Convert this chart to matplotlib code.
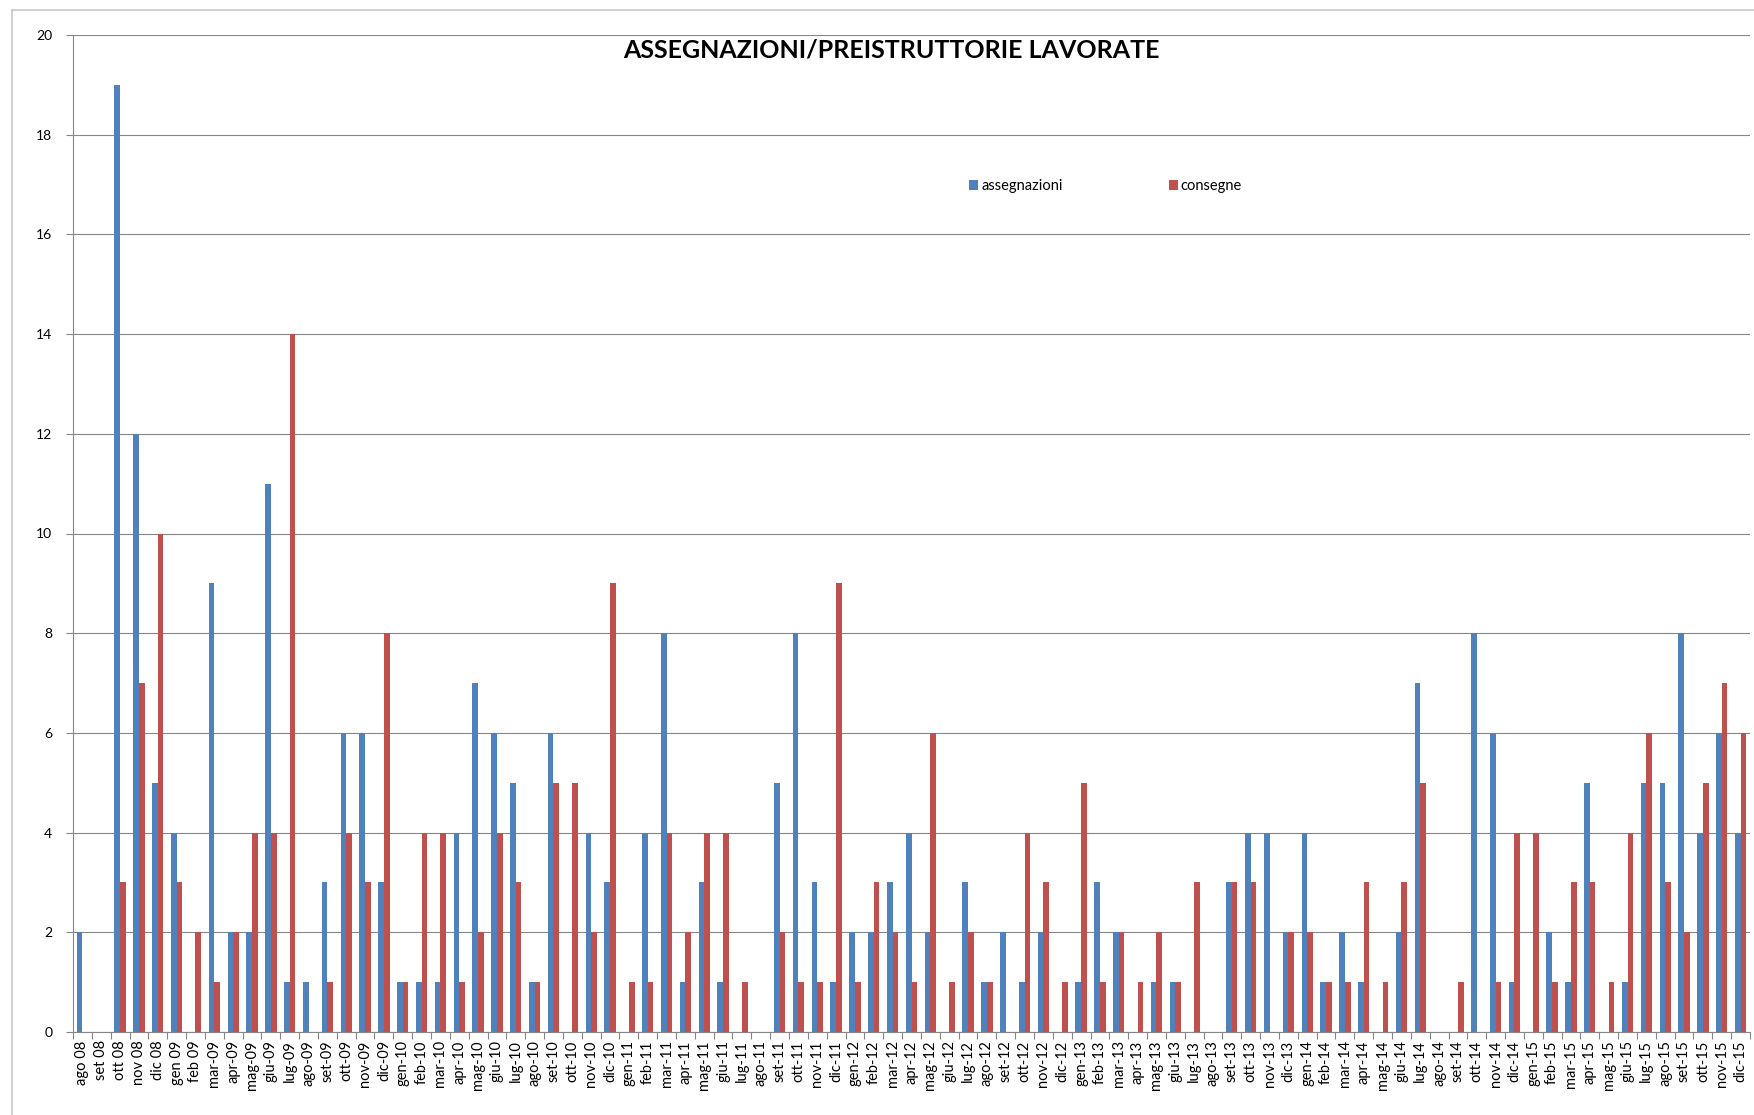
import numpy as np
import matplotlib
matplotlib.use('Agg')
import matplotlib.pyplot as plt
from matplotlib.lines import Line2D

plt.rcParams['font.family'] = ['Lato', 'DejaVu Sans']

# Dati mensili ago 08 - dic 15 -----
mesi = ['ago 08', 'set 08', 'ott 08', 'nov 08', 'dic 08', 'gen 09', 'feb 09',
        'mar-09', 'apr-09', 'mag-09', 'giu-09', 'lug-09', 'ago-09', 'set-09', 'ott-09', 'nov-09', 'dic-09',
        'gen-10', 'feb-10', 'mar-10', 'apr-10', 'mag-10', 'giu-10', 'lug-10', 'ago-10', 'set-10', 'ott-10', 'nov-10', 'dic-10',
        'gen-11', 'feb-11', 'mar-11', 'apr-11', 'mag-11', 'giu-11', 'lug-11', 'ago-11', 'set-11', 'ott-11', 'nov-11', 'dic-11',
        'gen-12', 'feb-12', 'mar-12', 'apr-12', 'mag-12', 'giu-12', 'lug-12', 'ago-12', 'set-12', 'ott-12', 'nov-12', 'dic-12',
        'gen-13', 'feb-13', 'mar-13', 'apr-13', 'mag-13', 'giu-13', 'lug-13', 'ago-13', 'set-13', 'ott-13', 'nov-13', 'dic-13',
        'gen-14', 'feb-14', 'mar-14', 'apr-14', 'mag-14', 'giu-14', 'lug-14', 'ago-14', 'set-14', 'ott-14', 'nov-14', 'dic-14',
        'gen-15', 'feb-15', 'mar-15', 'apr-15', 'mag-15', 'giu-15', 'lug-15', 'ago-15', 'set-15', 'ott-15', 'nov-15', 'dic-15']

assegnazioni = [2, 0, 19, 12, 5, 4, 0,
                9, 2, 2, 11, 1, 1, 3, 6, 6, 3,
                1, 1, 1, 4, 7, 6, 5, 1, 6, 0, 4, 3,
                0, 4, 8, 1, 3, 1, 0, 0, 5, 8, 3, 1,
                2, 2, 3, 4, 2, 0, 3, 1, 2, 1, 2, 0,
                1, 3, 2, 0, 1, 1, 0, 0, 3, 4, 4, 2,
                4, 1, 2, 1, 0, 2, 7, 0, 0, 8, 6, 1,
                0, 2, 1, 5, 0, 1, 5, 5, 8, 4, 6, 4]

consegne = [0, 0, 3, 7, 10, 3, 2,
            1, 2, 4, 4, 14, 0, 1, 4, 3, 8,
            1, 4, 4, 1, 2, 4, 3, 1, 5, 5, 2, 9,
            1, 1, 4, 2, 4, 4, 1, 0, 2, 1, 1, 9,
            1, 3, 2, 1, 6, 1, 2, 1, 0, 4, 3, 1,
            5, 1, 2, 1, 2, 1, 3, 0, 3, 3, 0, 2,
            2, 1, 1, 3, 1, 3, 5, 0, 1, 0, 1, 4,
            4, 1, 3, 3, 1, 4, 6, 3, 2, 5, 7, 6]

col_ass = '#4F81BD'
col_con = '#C0504D'
grid_col = '#868686'

fig = plt.figure(figsize=(17.54, 11.15), dpi=100)
ax = fig.add_axes([73 / 1754, 1 - 1032 / 1115, (1750 - 73) / 1754, (1032 - 35) / 1115])

x = np.arange(len(mesi))
w = 0.3
ax.bar(x - w / 2, assegnazioni, w, color=col_ass, label='assegnazioni', zorder=3)
ax.bar(x + w / 2, consegne, w, color=col_con, label='consegne', zorder=3)

ax.set_xlim(-0.5, len(mesi) - 0.5)
ax.set_ylim(0, 20)
ax.set_yticks(np.arange(0, 21, 2))
ax.tick_params(axis='y', length=5, width=0.8, color=grid_col, labelsize=10, pad=10)
ax.yaxis.grid(True, color=grid_col, linewidth=0.8, zorder=0)

# tick ai confini delle categorie, etichette al centro
ax.set_xticks(np.arange(-0.5, len(mesi), 1))
ax.set_xticklabels([])
ax.set_xticks(x, minor=True)
ax.set_xticklabels(mesi, minor=True, rotation=90, fontsize=10.5)
ax.tick_params(axis='x', which='major', length=5, width=0.8, color=grid_col)
ax.tick_params(axis='x', which='minor', length=0, pad=6)

for s in ['top', 'right']:
    ax.spines[s].set_visible(False)
for s in ['left', 'bottom']:
    ax.spines[s].set_color(grid_col)
    ax.spines[s].set_linewidth(0.8)

ax.set_title('ASSEGNAZIONI/PREISTRUTTORIE LAVORATE', fontsize=18, fontweight='bold',
             x=(891 - 73) / (1750 - 73), y=0.977, va='center')

ax.legend(ncol=2, loc='center left', bbox_to_anchor=(0.5345, 0.8485), frameon=False,
          fontsize=10.5, handlelength=0.6, handleheight=0.6, handletextpad=0.2,
          columnspacing=7.3, borderpad=0, borderaxespad=0)

# bordo dell'area grafico
fig.add_artist(Line2D([12 / 1754, 1], [1 - 10 / 1115, 1 - 10 / 1115], color='#C8C8C8', linewidth=1.2))
fig.add_artist(Line2D([12 / 1754, 12 / 1754], [0, 1 - 10 / 1115], color='#C8C8C8', linewidth=1.2))

fig.savefig('out.png', dpi=100)
